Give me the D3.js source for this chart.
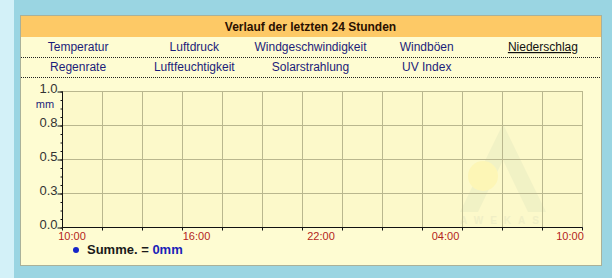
<!DOCTYPE html>
<html>
<head>
<meta charset="utf-8">
<script src="https://cdn.jsdelivr.net/npm/d3@7"></script>
<style>
  body { margin: 0; background: #9ad5e2; }
  svg { display: block; font-family: "Liberation Sans", Arial, sans-serif; }
</style>
</head>
<body>
<div id="chart"></div>
<script>
// Daten
const title = "Verlauf der letzten 24 Stunden";
const navRow1 = ["Temperatur", "Luftdruck", "Windgeschwindigkeit", "Windböen", "Niederschlag"];
const navRow2 = ["Regenrate", "Luftfeuchtigkeit", "Solarstrahlung", "UV Index"];
const activeNav = "Niederschlag";
const yTicks = [0, 0.25, 0.5, 0.75, 1.0];
const yTickLabels = ["0.0", "0.3", "0.5", "0.8", "1.0"];
const xTickHours = [0, 6, 12, 18, 24];
const xTickLabels = ["10:00", "16:00", "22:00", "04:00", "10:00"];
const hours = [0, 1, 2, 3, 4, 5, 6, 7, 8, 9, 10, 11, 12, 13, 14, 15, 16, 17, 18, 19, 20, 21, 22, 23, 24];
const rain = [0, 0, 0, 0, 0, 0, 0, 0, 0, 0, 0, 0, 0, 0, 0, 0, 0, 0, 0, 0, 0, 0, 0, 0, 0];
const unit = "mm";
const sumLabel = "Summe. = ";
const sumValue = "0mm";

const width = 612;
const height = 278;

const svg = d3.select("#chart").append("svg")
    .attr("width", width)
    .attr("height", height);

// Hintergrund
svg.append("rect").attr("width", width).attr("height", height).attr("fill", "#9ad5e2");
svg.append("rect").attr("width", 14).attr("height", height).attr("fill", "#d3f1f8");

// Panel
const panel = { x: 20, y: 15, w: 581, h: 250 };
svg.append("rect")
    .attr("x", panel.x + 0.5).attr("y", panel.y + 0.5)
    .attr("width", panel.w).attr("height", panel.h)
    .attr("fill", "#fefcd2")
    .attr("stroke", "#a9b19a");

svg.append("rect")
    .attr("x", panel.x + 1).attr("y", panel.y + 1)
    .attr("width", panel.w - 1).attr("height", 21)
    .attr("fill", "#fdc966");

svg.append("text")
    .attr("x", panel.x + panel.w / 2).attr("y", 31)
    .attr("text-anchor", "middle")
    .attr("font-size", 12).attr("font-weight", "bold")
    .attr("fill", "#2a1000")
    .text(title);

// Navigation
const colW = panel.w / 5;
[navRow1, navRow2].forEach((row, r) => {
    const y = 51 + r * 20;
    svg.selectAll(".nav" + r)
        .data(row)
        .enter()
        .append("text")
        .attr("x", (d, i) => panel.x + colW * i + colW / 2)
        .attr("y", y)
        .attr("text-anchor", "middle")
        .attr("font-size", 12)
        .attr("fill", d => d === activeNav ? "#111" : "#1c1c7a")
        .attr("text-decoration", d => d === activeNav ? "underline" : null)
        .text(d => d);

    svg.append("line")
        .attr("x1", panel.x + 1).attr("x2", panel.x + panel.w)
        .attr("y1", y + 6.5).attr("y2", y + 6.5)
        .attr("stroke", "#222")
        .attr("stroke-dasharray", "1,1");
});

// Plotbereich
const plot = { left: 62, right: 582, top: 91, bottom: 227 };

const x = d3.scaleLinear().domain([0, 24]).range([plot.left, plot.right]);
const xLabel = d3.scaleLinear().domain([0, 24]).range([72, 570]);
const y = d3.scaleLinear().domain([0, 1]).range([plot.bottom, plot.top]);
const gridIdx = d3.scaleLinear().domain([0, 13]).range([plot.left, plot.right]);

svg.append("rect")
    .attr("x", plot.left).attr("y", plot.top)
    .attr("width", plot.right - plot.left).attr("height", plot.bottom - plot.top)
    .attr("fill", "#fcf9ca");

// Wasserzeichen (AWEKAS)
const wm = svg.append("g").attr("opacity", 0.4);
wm.append("path")
    .attr("d", "M503,124 L546,212 L528,212 L503,160 L478,212 L460,212 Z")
    .attr("fill", "#e3e8c0");
wm.append("circle").attr("cx", 483).attr("cy", 176).attr("r", 15).attr("fill", "#fff39a");
wm.append("text")
    .attr("x", 503).attr("y", 224)
    .attr("text-anchor", "middle")
    .attr("font-size", 10).attr("font-weight", "bold")
    .attr("letter-spacing", 7)
    .attr("fill", "#dfe2c0")
    .text("AWEKAS");

// Gitter
svg.append("g")
    .selectAll("line")
    .data(d3.range(1, 14))
    .enter()
    .append("line")
    .attr("x1", d => Math.round(gridIdx(d)) + 0.5)
    .attr("x2", d => Math.round(gridIdx(d)) + 0.5)
    .attr("y1", plot.top).attr("y2", plot.bottom)
    .attr("stroke", "#b9b78e");

svg.append("g")
    .selectAll("line")
    .data(yTicks.slice(1))
    .enter()
    .append("line")
    .attr("x1", plot.left).attr("x2", plot.right)
    .attr("y1", d => Math.round(y(d)) + 0.5)
    .attr("y2", d => Math.round(y(d)) + 0.5)
    .attr("stroke", "#b9b78e");

// Datenlinie (liegt bei 0 unter der Achse)
svg.append("path")
    .datum(hours.map((h, i) => [h, rain[i]]))
    .attr("transform", "translate(0.5,0.5)")
    .attr("fill", "none")
    .attr("stroke", "#1020c0")
    .attr("d", d3.line().x(d => x(d[0])).y(d => y(d[1])));

// Y-Achse
const yAxis = d3.axisLeft(y)
    .tickValues(yTicks)
    .tickSize(5)
    .tickFormat((d, i) => yTickLabels[i]);
const yMinor = d3.axisLeft(y)
    .tickValues(d3.range(0, 1.0001, 0.0625))
    .tickSize(2)
    .tickFormat("");

const gyMinor = svg.append("g").attr("transform", `translate(${plot.left + 0.5},0.5)`).call(yMinor);
gyMinor.select(".domain").remove();
gyMinor.selectAll("line").attr("stroke", "#111");

const gy = svg.append("g").attr("transform", `translate(${plot.left + 0.5},0.5)`).call(yAxis);
gy.select(".domain").attr("stroke", "#111").attr("d", `M0,${plot.top}V${plot.bottom}`);
gy.selectAll("line").attr("stroke", "#111");
gy.selectAll("text")
    .attr("font-family", "Liberation Sans, Arial, sans-serif")
    .attr("font-size", 13)
    .attr("fill", "#333")
    .attr("x", -5)
    .attr("dy", "0.1em");

svg.append("text")
    .attr("x", 45).attr("y", 108)
    .attr("text-anchor", "middle")
    .attr("font-size", 11)
    .attr("fill", "#1c1c7a")
    .text(unit);

// X-Achse
const gx = svg.append("g").attr("transform", `translate(0.5,${plot.bottom + 0.5})`);
gx.append("line")
    .attr("x1", plot.left).attr("x2", plot.right)
    .attr("stroke", "#111");
gx.selectAll(".tick")
    .data(d3.range(0, 14))
    .enter()
    .append("line")
    .attr("x1", d => Math.round(gridIdx(d)))
    .attr("x2", d => Math.round(gridIdx(d)))
    .attr("y1", 0).attr("y2", 3)
    .attr("stroke", "#111");

svg.append("g")
    .selectAll("text")
    .data(xTickHours)
    .enter()
    .append("text")
    .attr("x", d => xLabel(d))
    .attr("y", 240)
    .attr("text-anchor", "middle")
    .attr("font-size", 11)
    .attr("fill", "#b3241c")
    .text((d, i) => xTickLabels[i]);

// Legende
svg.append("circle").attr("cx", 76).attr("cy", 250).attr("r", 3).attr("fill", "#1525c8");
const leg = svg.append("text")
    .attr("x", 87).attr("y", 254)
    .attr("font-size", 13)
    .attr("font-weight", "bold");
leg.append("tspan").attr("fill", "#1a1a1a").text(sumLabel);
leg.append("tspan").attr("fill", "#1a22b8").text(sumValue);
</script>
</body>
</html>
